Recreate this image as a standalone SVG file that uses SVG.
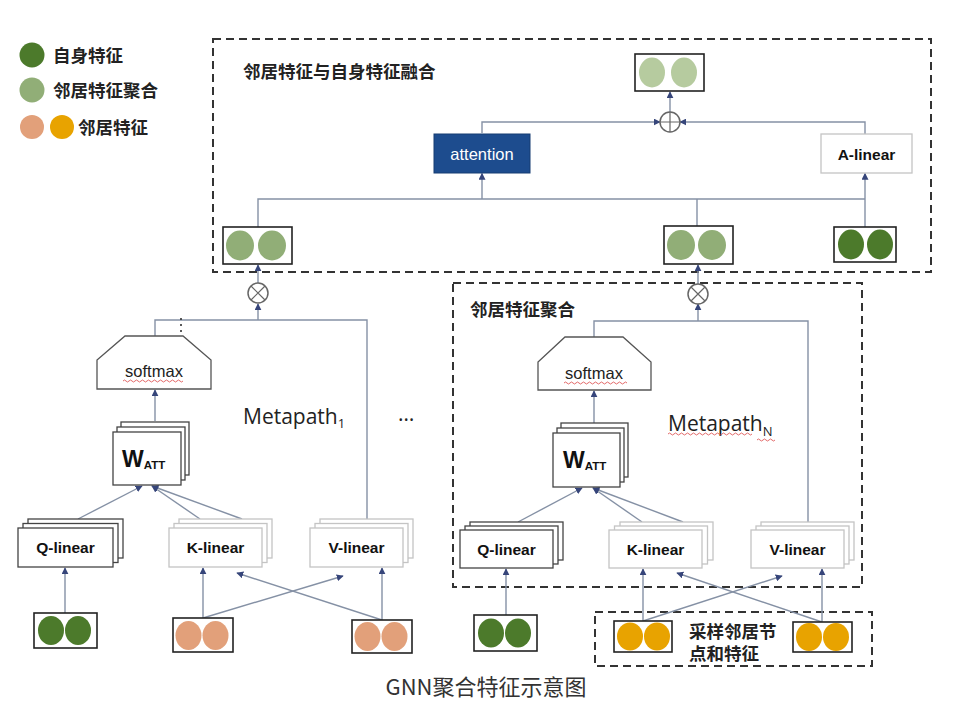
<svg xmlns="http://www.w3.org/2000/svg" width="960" height="709" viewBox="0 0 960 709">
<defs>
<marker id="ah" viewBox="0 0 10 10" refX="9" refY="5" markerWidth="7" markerHeight="7" markerUnits="userSpaceOnUse" orient="auto">
<path d="M0,0 L10,5 L0,10 z" fill="#36457a"/>
</marker>
<style>
.cjk{font-family:"Noto Sans CJK SC","Liberation Sans",sans-serif;font-weight:bold;font-size:17.5px;fill:#222}
.lbl{font-family:"Liberation Sans",Arial,sans-serif;font-weight:bold;font-size:15.5px;fill:#111;text-anchor:middle}
.soft{font-family:"Liberation Sans",Arial,sans-serif;font-size:16.5px;fill:#222;text-anchor:middle}
.meta{font-family:"Open Sans","Liberation Sans",sans-serif;font-size:21px;fill:#222}
.dk{fill:#fff;stroke:#444;stroke-width:1.3}
.lt{fill:#fff;stroke:#c4c4c4;stroke-width:1.3}
.fbox{fill:#fff;stroke:#222;stroke-width:1.6}
.dash{fill:none;stroke:#333;stroke-width:2;stroke-dasharray:8,5}
.ln{fill:none;stroke:#8591a5;stroke-width:1.4}
.ar{fill:none;stroke:#8591a5;stroke-width:1.4;marker-end:url(#ah)}
.op{fill:#fff;stroke:#666;stroke-width:1.5}
.g1{fill:#4c7a2b}
.g2{fill:#91ae77}
.g3{fill:#b6cb9f}
.pe{fill:#e2a07a}
.ye{fill:#e8a300}
.sq{fill:none;stroke:#e05a5a;stroke-width:0.9}
</style>
</defs>

<g id="legend">
<circle cx="32" cy="55" r="12.5" class="g1"/>
<text x="53" y="61.5" class="cjk">自身特征</text>
<circle cx="32" cy="90" r="12.5" class="g2"/>
<text x="53" y="96.5" class="cjk">邻居特征聚合</text>
<circle cx="32" cy="127" r="12" class="pe"/>
<circle cx="62" cy="127" r="12" class="ye"/>
<text x="78" y="133.5" class="cjk">邻居特征</text>
</g>

<g id="fusion-group">
<rect x="213" y="39" width="718" height="233" class="dash"/>
<text x="243" y="77.5" class="cjk">邻居特征与自身特征融合</text>
</g>

<g id="aggregation-group">
<rect x="453" y="283" width="409" height="304" class="dash"/>
<text x="470" y="316" class="cjk">邻居特征聚合</text>
</g>

<g id="sample-group">
<rect x="595" y="612" width="277" height="54" class="dash"/>
<text class="cjk" font-size="17"><tspan x="689" y="637.5">采样邻居节</tspan><tspan x="689" y="660">点和特征</tspan></text>
</g>

<g id="connectors">
<path d="M482,133 V122 H660" class="ar"/>
<path d="M865,134 V122 H680" class="ar"/>
<path d="M670,112 V92" class="ar"/>
<path d="M258,227 V199 H865" class="ln"/>
<path d="M697,226 V199" class="ln"/>
<path d="M482,199 V173.5" class="ar"/>
<path d="M865,227 V173.5" class="ar"/>

<path d="M258,283 V265" class="ar"/>
<path d="M155,337 V320 H367 V519" class="ln"/>
<path d="M258,320 V304" class="ar"/>
<path d="M181,318 V334" fill="none" stroke="#333" stroke-width="1.6" stroke-dasharray="2,4"/>
<path d="M155,421 V390" class="ar"/>
<path d="M78,519 L142,486" class="ar"/>
<path d="M200,519 L152,486" class="ar"/>
<path d="M242,519 L152,486" class="ar"/>
<path d="M65,613 V568" class="ar"/>
<path d="M203,618 V568" class="ar"/>
<path d="M203,618 L343,576" class="ar"/>
<path d="M382,620 L237,573" class="ar"/>
<path d="M382,620 V568" class="ar"/>

<path d="M698,284 V265" class="ar"/>
<path d="M594,337 V321 H808 V522" class="ln"/>
<path d="M698,321 V304" class="ar"/>
<path d="M594,423 V391" class="ar"/>
<path d="M518,522 L582,488" class="ar"/>
<path d="M642,522 L593,488" class="ar"/>
<path d="M683,522 L593,488" class="ar"/>
<path d="M506,615 V569" class="ar"/>
<path d="M643,621 V569" class="ar"/>
<path d="M643,621 L782,576" class="ar"/>
<path d="M822,622 L677,573" class="ar"/>
<path d="M822,622 V569" class="ar"/>
</g>

<g id="fused-output">
<rect x="635" y="54" width="69" height="37" class="fbox"/>
<ellipse cx="652" cy="72.5" rx="13" ry="15" class="g3"/>
<ellipse cx="684" cy="72.5" rx="13" ry="15" class="g3"/>
</g>

<g id="plus-op">
<circle cx="670" cy="122" r="10" class="op"/>
<path d="M660,122 H680 M670,112 V132" stroke="#666" stroke-width="1.2"/>
</g>

<g id="attention">
<rect x="434" y="134" width="96" height="39" fill="#1d4c8e" stroke="#163c72" stroke-width="1"/>
<text x="482" y="159.5" font-family="Liberation Sans, Arial, sans-serif" font-size="16.5" fill="#fff" text-anchor="middle">attention</text>
</g>

<g id="a-linear">
<rect x="821" y="134" width="91" height="39" class="lt"/>
<text x="866.5" y="159.5" class="lbl">A-linear</text>
</g>

<g id="feat-agg-1">
<rect x="223" y="227" width="69" height="37" class="fbox"/>
<ellipse cx="240" cy="245.5" rx="14" ry="15" class="g2"/>
<ellipse cx="272" cy="245.5" rx="14" ry="15" class="g2"/>
</g>

<g id="feat-agg-n">
<rect x="664" y="226" width="69" height="38" class="fbox"/>
<ellipse cx="681" cy="245" rx="14" ry="15" class="g2"/>
<ellipse cx="712" cy="245" rx="14" ry="15" class="g2"/>
</g>

<g id="feat-self-top">
<rect x="834" y="227" width="62" height="35" class="fbox"/>
<ellipse cx="851" cy="244.5" rx="13" ry="15" class="g1"/>
<ellipse cx="880" cy="244.5" rx="13" ry="15" class="g1"/>
</g>

<g id="mult-1">
<circle cx="258" cy="293" r="10" class="op"/>
<path d="M251,286 L265,300 M265,286 L251,300" stroke="#666" stroke-width="1.2"/>
</g>

<g id="mult-n">
<circle cx="698" cy="294" r="10" class="op"/>
<path d="M691,287 L705,301 M705,287 L691,301" stroke="#666" stroke-width="1.2"/>
</g>

<g id="softmax-1">
<path d="M125,336 H183 L211,360 V389 H97 V360 Z" fill="#fff" stroke="#555" stroke-width="1.3"/>
<text x="154" y="377" class="soft">softmax</text>
<path d="M123,381 q1.5,-2 3,0 t3,0 t3,0 t3,0 t3,0 t3,0 t3,0 t3,0 t3,0 t3,0 t3,0 t3,0 t3,0 t3,0 t3,0 t3,0 t3,0 t3,0 t3,0 t3,0" class="sq"/>
</g>

<g id="softmax-n">
<path d="M565,337 H623 L651,362 V390 H538 V362 Z" fill="#fff" stroke="#555" stroke-width="1.3"/>
<text x="594" y="379" class="soft">softmax</text>
<path d="M564,383 q1.5,-2 3,0 t3,0 t3,0 t3,0 t3,0 t3,0 t3,0 t3,0 t3,0 t3,0 t3,0 t3,0 t3,0 t3,0 t3,0 t3,0 t3,0 t3,0 t3,0 t3,0 t3,0" class="sq"/>
</g>

<g id="watt-1">
<rect x="121" y="422" width="68" height="53" class="dk"/>
<rect x="117" y="427" width="68" height="53" class="dk"/>
<rect x="113" y="432" width="68" height="53" class="dk"/>
<text x="122" y="467" font-family="Liberation Sans, Arial, sans-serif" font-weight="bold" font-size="23" fill="#111">W<tspan font-size="11.5" dy="1.5">ATT</tspan></text>
</g>

<g id="watt-n">
<rect x="561" y="423" width="67" height="54" class="dk"/>
<rect x="557" y="428" width="67" height="54" class="dk"/>
<rect x="553" y="433" width="67" height="54" class="dk"/>
<text x="563" y="468" font-family="Liberation Sans, Arial, sans-serif" font-weight="bold" font-size="23" fill="#111">W<tspan font-size="11.5" dy="1.5">ATT</tspan></text>
</g>

<g id="metapath-1">
<text x="243" y="424" class="meta">Metapath<tspan font-size="13" dy="4">1</tspan></text>
<text x="398" y="421" class="meta" font-size="20">…</text>
</g>

<g id="metapath-n">
<text x="668" y="431" class="meta">Metapath<tspan font-size="13" dy="5">N</tspan></text>
<path d="M668,434 q1.5,-2 3,0 t3,0 t3,0 t3,0 t3,0 t3,0 t3,0 t3,0 t3,0 t3,0 t3,0 t3,0 t3,0 t3,0 t3,0 t3,0 t3,0 t3,0 t3,0 t3,0 t3,0 t3,0 t3,0 t3,0 t3,0 t3,0 t3,0 t3,0" class="sq"/>
<path d="M757,440 q1.5,-2 3,0 t3,0 t3,0 t3,0 t3,0 t3,0" class="sq"/>
</g>

<g id="q-linear-1">
<rect x="28" y="519" width="95" height="39" class="dk"/>
<rect x="23" y="523.5" width="95" height="39" class="dk"/>
<rect x="18" y="528" width="95" height="39" class="dk"/>
<text x="65.5" y="553" class="lbl">Q-linear</text>
</g>

<g id="k-linear-1">
<rect x="179" y="519" width="93" height="39" class="lt"/>
<rect x="174" y="523.5" width="93" height="39" class="lt"/>
<rect x="169" y="528" width="93" height="39" class="lt"/>
<text x="215.5" y="553" class="lbl">K-linear</text>
</g>

<g id="v-linear-1">
<rect x="320" y="519" width="93" height="39" class="lt"/>
<rect x="315" y="523.5" width="93" height="39" class="lt"/>
<rect x="310" y="528" width="93" height="39" class="lt"/>
<text x="356.5" y="553" class="lbl">V-linear</text>
</g>

<g id="q-linear-n">
<rect x="470" y="522" width="93" height="38" class="dk"/>
<rect x="465" y="526" width="93" height="38" class="dk"/>
<rect x="460" y="530" width="93" height="38" class="dk"/>
<text x="506.5" y="555" class="lbl">Q-linear</text>
</g>

<g id="k-linear-n">
<rect x="620" y="522" width="93" height="38" class="lt"/>
<rect x="614.5" y="526" width="93" height="38" class="lt"/>
<rect x="609" y="530" width="93" height="38" class="lt"/>
<text x="655.5" y="555" class="lbl">K-linear</text>
</g>

<g id="v-linear-n">
<rect x="761" y="522" width="93" height="38" class="lt"/>
<rect x="756" y="526" width="93" height="38" class="lt"/>
<rect x="751" y="530" width="93" height="38" class="lt"/>
<text x="797.5" y="555" class="lbl">V-linear</text>
</g>

<g id="feat-self-1">
<rect x="34" y="613" width="63" height="35" class="fbox"/>
<ellipse cx="51" cy="630.5" rx="13" ry="14.5" class="g1"/>
<ellipse cx="78" cy="630.5" rx="13" ry="14.5" class="g1"/>
</g>

<g id="feat-nb-1a">
<rect x="173" y="618" width="60" height="34" class="fbox"/>
<ellipse cx="188.5" cy="635.5" rx="13" ry="14.5" class="pe"/>
<ellipse cx="215.5" cy="635.5" rx="13" ry="14.5" class="pe"/>
</g>

<g id="feat-nb-1b">
<rect x="352" y="620" width="60" height="33" class="fbox"/>
<ellipse cx="367.5" cy="636.5" rx="13" ry="14.5" class="pe"/>
<ellipse cx="394.5" cy="636.5" rx="13" ry="14.5" class="pe"/>
</g>

<g id="feat-self-n">
<rect x="474" y="615" width="63" height="36" class="fbox"/>
<ellipse cx="491" cy="633" rx="13" ry="14.5" class="g1"/>
<ellipse cx="518" cy="633" rx="13" ry="14.5" class="g1"/>
</g>

<g id="feat-nb-na">
<rect x="614" y="621" width="58" height="31" class="fbox"/>
<ellipse cx="630" cy="636.5" rx="13" ry="14" class="ye"/>
<ellipse cx="657" cy="636.5" rx="13" ry="14" class="ye"/>
</g>

<g id="feat-nb-nb">
<rect x="793" y="622" width="59" height="30" class="fbox"/>
<ellipse cx="809" cy="637" rx="13" ry="14" class="ye"/>
<ellipse cx="836" cy="637" rx="13" ry="14" class="ye"/>
</g>

<g id="caption">
<text x="486" y="695" font-family="Noto Sans CJK SC, Liberation Sans, sans-serif" font-size="22" fill="#333" text-anchor="middle">GNN聚合特征示意图</text>
</g>
</svg>
